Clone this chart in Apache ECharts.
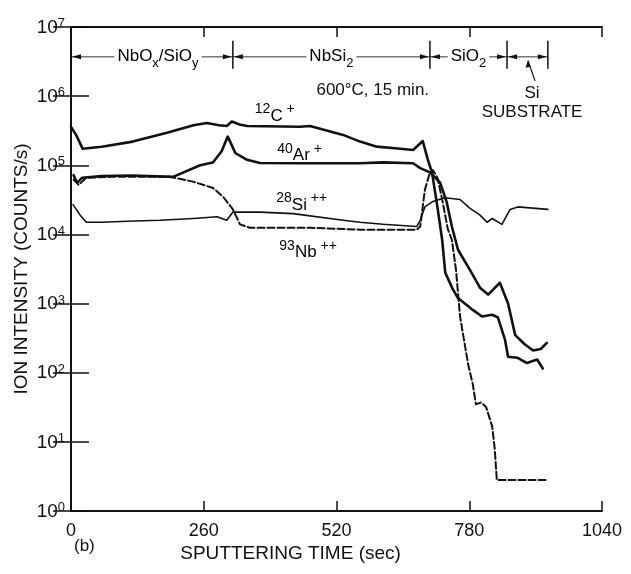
<!DOCTYPE html>
<html>
<head>
<meta charset="utf-8">
<script src="https://cdn.jsdelivr.net/npm/echarts@6/dist/echarts.min.js"></script>
<style>
  html, body { margin: 0; padding: 0; background: #fff; }
  #chart { width: 631px; height: 574px; }
</style>
</head>
<body>
<div id="chart"></div>
<script>
// sputtering time (sec) vs ion intensity (counts/s)
const timeTicks = [0, 260, 520, 780, 1040];

const carbon = [
  [0, 3.6e5], [10, 2.75e5], [23, 1.73e5], [60, 1.85e5], [121, 2.2e5], [188, 2.95e5],
  [240, 3.8e5], [266, 4.1e5], [290, 3.8e5], [305, 3.7e5], [315, 4.3e5], [330, 3.9e5],
  [345, 3.7e5], [448, 3.6e5], [468, 3.7e5], [533, 2.75e5], [566, 2.2e5], [599, 1.86e5],
  [640, 1.75e5], [670, 1.66e5], [689, 2.24e5], [699, 1.2e5], [707, 7.9e4], [717, 2.7e4],
  [727, 8.3e3], [733, 2.8e3], [748, 1.6e3], [758, 1.2e3], [787, 8.1e2], [805, 6.5e2],
  [825, 6.9e2], [836, 6.3e2], [850, 3.0e2], [856, 1.7e2], [874, 1.65e2], [893, 1.38e2],
  [913, 1.55e2], [924, 1.15e2]
];

const argon = [
  [5, 7.2e4], [12, 5.6e4], [22, 6.6e4], [60, 7.0e4], [120, 7.1e4], [200, 6.8e4],
  [253, 1.0e5], [278, 1.1e5], [295, 1.6e5], [307, 2.6e5], [322, 1.5e5], [345, 1.2e5],
  [370, 1.08e5], [448, 1.07e5], [566, 1.07e5], [611, 1.1e5], [670, 1.07e5], [684, 9.1e4],
  [703, 7.9e4], [723, 5.6e4], [736, 2.9e4], [746, 1.3e4], [758, 6.0e3], [772, 4.0e3],
  [781, 3.1e3], [801, 1.7e3], [817, 1.35e3], [840, 2.0e3], [856, 1.0e3], [870, 3.5e2],
  [888, 2.6e2], [905, 2.1e2], [920, 2.2e2], [932, 2.7e2]
];

const silicon = [
  [4, 2.7e4], [18, 1.9e4], [30, 1.5e4], [60, 1.5e4], [110, 1.55e4], [174, 1.6e4],
  [240, 1.7e4], [286, 1.8e4], [305, 1.6e4], [317, 2.1e4], [370, 2.1e4], [435, 2.0e4],
  [533, 1.6e4], [566, 1.5e4], [611, 1.4e4], [677, 1.3e4], [684, 1.6e4], [693, 2.5e4],
  [709, 3.0e4], [732, 3.4e4], [762, 3.2e4], [781, 2.4e4], [801, 1.9e4], [815, 1.5e4],
  [825, 1.7e4], [844, 1.4e4], [860, 2.3e4], [875, 2.5e4], [934, 2.3e4]
];

const niobium = [
  [5, 6.2e4], [15, 5.2e4], [30, 6.6e4], [80, 6.8e4], [150, 6.8e4], [194, 6.8e4],
  [239, 5.8e4], [278, 4.7e4], [298, 3.5e4], [317, 2.3e4], [331, 1.4e4], [350, 1.25e4],
  [468, 1.25e4], [566, 1.17e4], [677, 1.17e4], [684, 1.3e4], [693, 4.4e4], [703, 7.9e4],
  [709, 8.5e4], [718, 6.5e4], [727, 3.2e4], [738, 1.2e4], [746, 8.3e3], [754, 3.1e3],
  [762, 6.5e2], [778, 1.3e2], [787, 68], [793, 35], [803, 37], [813, 32], [825, 16.6],
  [830, 7.8], [834, 2.8], [934, 2.8]
];

// layer boundaries along the top of the plot
const layerEdges = [0, 317, 703, 854, 934];
const layerNames = ['{m|NbO}{s|x}{m|/SiO}{s|y}', '{m|NbSi}{s|2}', '{m|SiO}{s|2}'];

const speciesLabels = [
  { text: '{p|12}{m|C}{p| +}', t: 360, v: 5.6e5 },
  { text: '{p|40}{m|Ar}{p| +}', t: 404, v: 1.5e5 },
  { text: '{p|28}{m|Si}{p| ++}', t: 402, v: 2.9e4 },
  { text: '{p|93}{m|Nb}{p| ++}', t: 408, v: 6.0e3 }
];

const FONT = '"Liberation Sans", Arial, sans-serif';
const INK = '#111';

const chart = echarts.init(document.getElementById('chart'));

const line = (name, data, width, type) => ({
  name,
  type: 'line',
  data,
  symbol: 'none',
  showSymbol: false,
  silent: true,
  lineStyle: { color: INK, width, type, join: 'round', cap: 'round' },
  z: 3
});

const xBase = {
  type: 'value',
  min: timeTicks[0],
  max: timeTicks[timeTicks.length - 1],
  interval: 260,
  splitLine: { show: false },
  axisLine: { lineStyle: { color: INK, width: 2 } },
  axisTick: { inside: true, length: 10, lineStyle: { color: INK, width: 1.5 } }
};

const yBase = {
  type: 'log',
  logBase: 10,
  min: 1,
  max: 1e7,
  splitNumber: 7,
  splitLine: { show: false },
  minorTick: { show: false },
  axisLine: { lineStyle: { color: INK, width: 2 } },
  axisTick: { inside: true, length: 18, lineStyle: { color: INK, width: 1.5 } }
};

chart.setOption({
  animation: false,
  backgroundColor: '#fff',
  grid: { left: 71, right: 29, top: 27, bottom: 63, containLabel: false },
  xAxis: [
    Object.assign({}, xBase, {
      position: 'bottom',
      axisLabel: {
        color: INK, fontFamily: FONT, fontSize: 18, margin: 11,
        showMinLabel: true, showMaxLabel: true,
        formatter: (v) => String(v)
      }
    }),
    Object.assign({}, xBase, { position: 'top', axisLabel: { show: false } })
  ],
  yAxis: [
    Object.assign({}, yBase, {
      position: 'left',
      name: 'ION INTENSITY (COUNTS/s)',
      nameLocation: 'middle',
      nameRotate: 90,
      nameGap: 40,
      nameMoveOverlap: false,
      nameTextStyle: { color: INK, fontFamily: FONT, fontSize: 19 },
      axisLabel: {
        margin: 6,
        formatter: (v) => '{b|10}{e|' + Math.round(Math.log10(v)) + '}',
        rich: {
          b: { fontFamily: FONT, fontSize: 19, color: INK, lineHeight: 20, verticalAlign: 'bottom' },
          e: { fontFamily: FONT, fontSize: 13, color: INK, lineHeight: 13, verticalAlign: 'top' }
        }
      }
    }),
    Object.assign({}, yBase, { position: 'right', axisLabel: { show: false } })
  ],
  series: [
    line('12C+', carbon, 2.6, 'solid'),
    line('40Ar+', argon, 2.6, 'solid'),
    line('28Si++', silicon, 1.6, 'solid'),
    line('93Nb++', niobium, 2, [7, 3])
  ]
});

// annotations placed through the axes' own coordinate system
const px = (t, v) => chart.convertToPixel({ xAxisIndex: 0, yAxisIndex: 0 }, [t, v]);
const richLayer = {
  m: { fontFamily: FONT, fontSize: 17, color: INK, lineHeight: 22, verticalAlign: 'top' },
  s: { fontFamily: FONT, fontSize: 13, color: INK, lineHeight: 13, verticalAlign: 'bottom' }
};
const richSpecies = {
  m: { fontFamily: FONT, fontSize: 17, color: INK, lineHeight: 22, verticalAlign: 'bottom' },
  p: { fontFamily: FONT, fontSize: 14, color: INK, lineHeight: 14, verticalAlign: 'top' }
};

const rowY = px(0, 3.7e6)[1];
const edgeX = layerEdges.map((t) => px(t, 1)[0]);
const g = [];

g.push({
  type: 'line',
  shape: { x1: edgeX[0], y1: rowY, x2: edgeX[4], y2: rowY },
  style: { stroke: '#333', lineWidth: 1 }
});
edgeX.slice(1).forEach((x) => {
  g.push({
    type: 'line',
    shape: { x1: x, y1: rowY - 16, x2: x, y2: rowY + 12 },
    style: { stroke: INK, lineWidth: 1.5 }
  });
});
const arrowHead = (x, y, dir) => ({
  type: 'polygon',
  shape: { points: [[x, y], [x - dir * 9, y - 2.5], [x - dir * 9, y + 2.5]] },
  style: { fill: INK }
});
for (let i = 0; i < 4; i++) {
  g.push(arrowHead(edgeX[i] + 1, rowY, -1));
  g.push(arrowHead(edgeX[i + 1] - 1, rowY, 1));
}
layerNames.forEach((name, i) => {
  g.push({
    type: 'text',
    z: 10,
    style: {
      x: (edgeX[i] + edgeX[i + 1]) / 2 + (i === 0 ? 6 : 0),
      y: rowY + 2,
      text: name,
      rich: richLayer,
      align: 'center',
      verticalAlign: 'middle',
      backgroundColor: '#fff',
      padding: [0, 3]
    }
  });
});

const note = px(591, 1.23e6);
g.push({
  type: 'text',
  style: {
    x: note[0], y: note[1], text: '600°C, 15 min.',
    font: '17px ' + FONT, fill: INK, align: 'center', verticalAlign: 'middle'
  }
});

const subX = px(903, 1)[0];
g.push({
  type: 'line',
  shape: { x1: subX + 3, y1: rowY + 24, x2: subX - 4, y2: rowY + 4 },
  style: { stroke: INK, lineWidth: 1.2 }
});
g.push({
  type: 'polygon',
  shape: { points: [[subX - 4, rowY + 3], [subX - 6.5, rowY + 11], [subX - 1.5, rowY + 10]] },
  style: { fill: INK }
});
g.push({
  type: 'text',
  style: {
    x: subX, y: rowY + 36, text: 'Si',
    font: '17px ' + FONT, fill: INK, align: 'center', verticalAlign: 'middle'
  }
});
g.push({
  type: 'text',
  style: {
    x: subX, y: rowY + 55, text: 'SUBSTRATE',
    font: '17px ' + FONT, fill: INK, align: 'center', verticalAlign: 'middle'
  }
});

speciesLabels.forEach((s) => {
  const p = px(s.t, s.v);
  g.push({
    type: 'text',
    style: { x: p[0], y: p[1], text: s.text, rich: richSpecies, align: 'left', verticalAlign: 'middle' }
  });
});

const xName = px(430, 1);
g.push({
  type: 'text',
  style: {
    x: xName[0], y: xName[1] + 43, text: 'SPUTTERING TIME (sec)',
    font: '19px ' + FONT, fill: INK, align: 'center', verticalAlign: 'middle'
  }
});
g.push({
  type: 'text',
  style: {
    x: 74, y: xName[1] + 35, text: '(b)',
    font: '17px ' + FONT, fill: INK, align: 'left', verticalAlign: 'middle'
  }
});

chart.setOption({ graphic: { elements: g } });
</script>
</body>
</html>
